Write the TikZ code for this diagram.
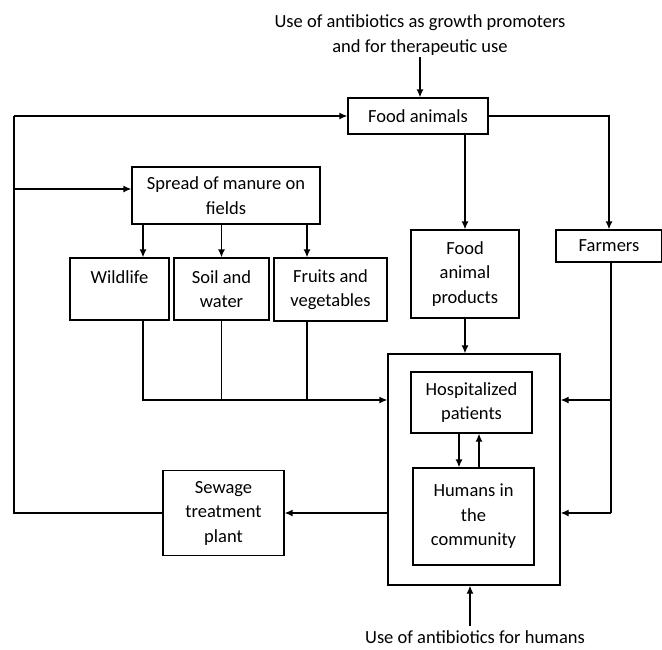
\documentclass[tikz,border=0pt]{standalone}
\usepackage{fontspec}
\setmainfont{Carlito}
\usetikzlibrary{arrows.meta,calc}
\begin{document}
\begin{tikzpicture}[x=1pt,y=-1pt,
  box/.style={draw,line width=1.3pt,inner sep=0pt,align=center,font=\fontsize{18.5}{24.5}\selectfont},
  lbl/.style={inner sep=0pt,align=center,font=\fontsize{18.5}{24.5}\selectfont},
  ln/.style={line width=1.3pt},
  arr/.style={line width=1.3pt,-{Latex[length=8pt,width=7pt]}}]
\useasboundingbox (0,0) rectangle (662,649);
% boxes
\node[box,minimum width=140pt,minimum height=36pt] (fa) at (418,116) {Food animals};
\node[box,minimum width=188pt,minimum height=57pt] (spread) at (226,195.5) {Spread of manure on\\fields};
\node[box,minimum width=99pt,minimum height=62pt] (wild) at (119.5,289) {Wildlife\\[0pt]~};
\node[box,minimum width=95pt,minimum height=62pt] (soil) at (221.5,289) {Soil and\\water};
\node[box,minimum width=113pt,minimum height=63pt] (fruit) at (330.5,289.5) {Fruits and\\vegetables};
\node[box,minimum width=108pt,minimum height=88pt] (fap) at (465,274) {Food\\animal\\products};
\node[box,minimum width=106pt,minimum height=32pt] (farm) at (609,246) {Farmers};
\node[box,minimum width=172pt,minimum height=231pt] (big) at (474,469.5) {};
\node[box,minimum width=121pt,minimum height=61pt] (hosp) at (471.5,402.5) {Hospitalized\\patients};
\node[box,minimum width=121pt,minimum height=97pt] (hum) at (473.5,516.5) {Humans in\\the\\community};
\node[box,minimum width=121pt,minimum height=85pt] (sew) at (223.5,513) {Sewage\\treatment\\plant};
% free texts
\node[lbl] (toptext) at (420,35) {Use of antibiotics as growth promoters\\and for therapeutic use};
\node[lbl] (bottext) at (475,637) {Use of antibiotics for humans};
% connectors
\coordinate (t1) at (420,57);
\draw[arr] (t1) -- (t1 |- fa.north);
\coordinate (L1) at (14,116);
\coordinate (L2) at (14,189);
\draw[ln] (sew.west) -| (L1);
\draw[arr] (L1) -- (fa.west);
\draw[arr] (L2) -- (L2 -| spread.west);
\draw[arr] (fa.south -| fap.north) -- (fap.north);
\draw[arr] (fa.east) -| (farm.north);
\draw[arr] (143,0 |- spread.south) -- (143,0 |- wild.north);
\draw[arr] (spread.south -| soil.north) -- (soil.north);
\draw[arr] (307,0 |- spread.south) -- (307,0 |- fruit.north);
\coordinate (J) at (143,400);
\draw[arr] (143,0 |- wild.south) -- (J) -- (J -| big.west);
\draw[ln] (soil.south) -- (soil.south |- J);
\draw[ln] (307,0 |- fruit.south) -- (307,400);
\draw[arr] (fap.south) -- (fap.south |- big.north);
\coordinate (R1) at (611,400);
\coordinate (R2) at (611,513);
\draw[ln] (611,0 |- farm.south) -- (R2);
\draw[arr] (R1) -- (R1 -| big.east);
\draw[arr] (R2) -- (R2 -| big.east);
\draw[arr] (459,0 |- hosp.south) -- (459,0 |- hum.north);
\draw[arr] (479,0 |- hum.north) -- (479,0 |- hosp.south);
\draw[arr] (big.west |- sew.east) -- (sew.east);
\coordinate (b1) at (470,626);
\draw[arr] (b1) -- (b1 |- big.south);
\end{tikzpicture}
\end{document}
